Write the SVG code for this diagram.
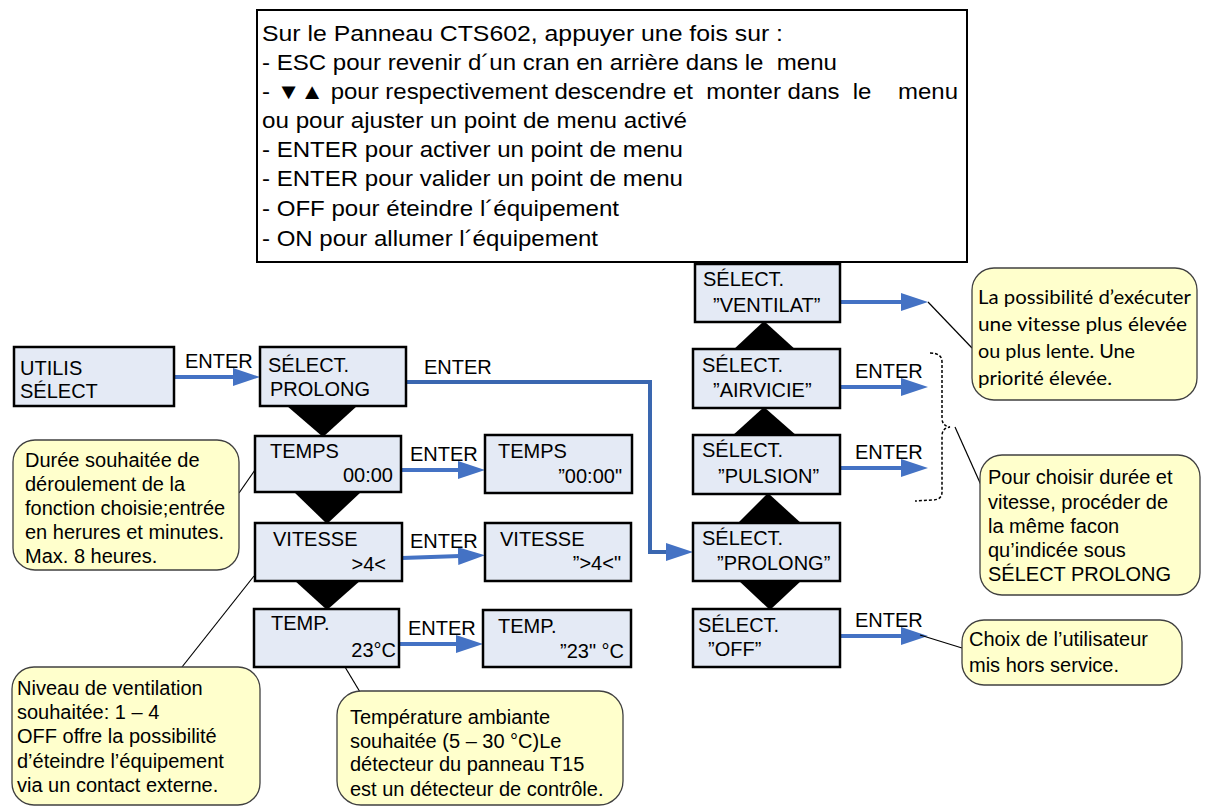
<svg xmlns="http://www.w3.org/2000/svg" width="1210" height="807" viewBox="0 0 1210 807">
<defs>
<style>
.t{font-family:"Liberation Sans",Arial,sans-serif;font-size:20px;fill:#000}
.top{font-family:"Liberation Sans",Arial,sans-serif;font-size:22px;fill:#000;white-space:pre}
.cal{font-family:Lato,"Liberation Sans",sans-serif;font-size:20px;fill:#000}
.end{text-anchor:end}
.node{fill:#E4EAF5;stroke:#000;stroke-width:2.5}
.co{fill:#FFFFCC;stroke:#404040;stroke-width:1.3}
.tri{fill:#000}
.ar{fill:none;stroke:#4472C4;stroke-width:4}
.ar2{fill:none;stroke:#3A67B0;stroke-width:4}
.lead{stroke:#000;stroke-width:1.2;fill:none}
</style>
<marker id="ah" markerUnits="userSpaceOnUse" markerWidth="28" markerHeight="20" refX="2" refY="9" orient="auto">
<path d="M0,0 L27,9 L0,18 z" fill="#4472C4"/>
</marker>
</defs>
<rect width="1210" height="807" fill="#fff"/>

<g id="info">
<rect x="257" y="10" width="710" height="252" fill="#fff" stroke="#000" stroke-width="2"/>
<text class="top" x="262" y="41" textLength="521" lengthAdjust="spacingAndGlyphs">Sur le Panneau CTS602, appuyer une fois sur :</text>
<text class="top" x="262" y="70" textLength="575" lengthAdjust="spacingAndGlyphs">- ESC pour revenir d´un cran en arrière dans le  menu</text>
<text class="top" x="262" y="99" textLength="696" lengthAdjust="spacingAndGlyphs">- ▼▲ pour respectivement descendre et  monter dans  le    menu</text>
<text class="top" x="262" y="128" textLength="425" lengthAdjust="spacingAndGlyphs">ou pour ajuster un point de menu activé</text>
<text class="top" x="262" y="157" textLength="421" lengthAdjust="spacingAndGlyphs">- ENTER pour activer un point de menu</text>
<text class="top" x="262" y="186" textLength="421" lengthAdjust="spacingAndGlyphs">- ENTER pour valider un point de menu</text>
<text class="top" x="262" y="216" textLength="357" lengthAdjust="spacingAndGlyphs">- OFF pour éteindre l´équipement</text>
<text class="top" x="262" y="246" textLength="336" lengthAdjust="spacingAndGlyphs">- ON pour allumer l´équipement</text>
</g>

<g id="triangles">
<polygon class="tri" points="287,406 357,406 323,437"/>
<polygon class="tri" points="294,492 361,492 327,524"/>
<polygon class="tri" points="294,580 361,580 327,610"/>
<polygon class="tri" points="732,351 797,351 764,321"/>
<polygon class="tri" points="732,436 797,436 764,407"/>
<polygon class="tri" points="737,524 802,524 768,493"/>
<polygon class="tri" points="738,580 802,580 770,610"/>
</g>

<g id="connectors">
<line class="ar" x1="175" y1="377" x2="235" y2="377" marker-end="url(#ah)"/>
<text class="t" x="185" y="368">ENTER</text>
<polyline class="ar2" points="406,382 650,382 650,552 668,552" marker-end="url(#ah)"/>
<text class="t" x="424" y="374">ENTER</text>
<line class="ar" x1="401" y1="470" x2="460" y2="470" marker-end="url(#ah)"/>
<text class="t" x="410" y="461">ENTER</text>
<line class="ar" x1="402" y1="558" x2="460" y2="556" marker-end="url(#ah)"/>
<text class="t" x="410" y="548">ENTER</text>
<line class="ar" x1="399" y1="644" x2="458" y2="644" marker-end="url(#ah)"/>
<text class="t" x="408" y="635">ENTER</text>
<line class="ar" x1="840" y1="302" x2="903" y2="302" marker-end="url(#ah)"/>
<line class="ar" x1="840" y1="387" x2="903" y2="387" marker-end="url(#ah)"/>
<text class="t" x="855" y="378">ENTER</text>
<line class="ar" x1="840" y1="468" x2="903" y2="468" marker-end="url(#ah)"/>
<text class="t" x="855" y="459">ENTER</text>
<line class="ar" x1="840" y1="636" x2="903" y2="636" marker-end="url(#ah)"/>
<text class="t" x="855" y="627">ENTER</text>
<path d="M930,353 Q942,353 942,362 L942,418 Q942,426 950,427 Q942,428 942,436 L942,492 Q942,500 932,500 L915,501" fill="none" stroke="#000" stroke-width="1.5" stroke-dasharray="3,2"/>
<line class="lead" x1="239" y1="493" x2="255" y2="470"/>
<line class="lead" x1="182" y1="667" x2="254" y2="576"/>
<line class="lead" x1="345" y1="667" x2="360" y2="692"/>
<line class="lead" x1="928" y1="302" x2="972" y2="348"/>
<line class="lead" x1="955" y1="427" x2="981" y2="485"/>
<line class="lead" x1="920" y1="635" x2="962" y2="648"/>
</g>

<g id="n_utilis"><rect class="node" x="14" y="347" width="160" height="59"/>
<text class="t" x="20" y="375">UTILIS</text><text class="t" x="20" y="398">SÉLECT</text></g>
<g id="n_sel_prolong"><rect class="node" x="260" y="347" width="146" height="59"/>
<text class="t" x="268" y="372">SÉLECT.</text><text class="t" x="270" y="396">PROLONG</text></g>
<g id="n_temps"><rect class="node" x="255" y="436" width="146" height="56"/>
<text class="t" x="270" y="458">TEMPS</text><text class="t end" x="393" y="482">00:00</text></g>
<g id="n_vitesse"><rect class="node" x="255" y="523" width="147" height="58"/>
<text class="t" x="273" y="546">VITESSE</text><text class="t end" x="386" y="571">&gt;4&lt;</text></g>
<g id="n_temp"><rect class="node" x="254" y="609" width="145" height="58"/>
<text class="t" x="271" y="630">TEMP.</text><text class="t end" x="396" y="657">23°C</text></g>
<g id="n_temps2"><rect class="node" x="485" y="435" width="147" height="58"/>
<text class="t" x="498" y="458">TEMPS</text><text class="t end" x="622" y="483">”00:00"</text></g>
<g id="n_vitesse2"><rect class="node" x="485" y="523" width="146" height="58"/>
<text class="t" x="500" y="546">VITESSE</text><text class="t end" x="621" y="570">”&gt;4&lt;"</text></g>
<g id="n_temp2"><rect class="node" x="483" y="610" width="148" height="57"/>
<text class="t" x="498" y="633">TEMP.</text><text class="t end" x="624" y="658">”23" °C</text></g>
<g id="n_ventilat"><rect class="node" x="695" y="264" width="145" height="58"/>
<text class="t" x="703" y="286">SÉLECT.</text><text class="t" x="713" y="312">”VENTILAT”</text></g>
<g id="n_airvicie"><rect class="node" x="693" y="349" width="147" height="59"/>
<text class="t" x="702" y="372">SÉLECT.</text><text class="t" x="713" y="397">”AIRVICIE”</text></g>
<g id="n_pulsion"><rect class="node" x="693" y="435" width="147" height="59"/>
<text class="t" x="702" y="457">SÉLECT.</text><text class="t" x="718" y="483">”PULSION”</text></g>
<g id="n_prolong2"><rect class="node" x="693" y="523" width="147" height="58"/>
<text class="t" x="702" y="545">SÉLECT.</text><text class="t" x="717" y="570">”PROLONG”</text></g>
<g id="n_off"><rect class="node" x="693" y="609" width="147" height="58"/>
<text class="t" x="698" y="632">SÉLECT.</text><text class="t" x="708" y="656">”OFF”</text></g>

<g id="co_duree"><rect class="co" x="13" y="440" width="226" height="130" rx="22"/>
<text class="t" x="25" y="467">Durée souhaitée de</text>
<text class="t" x="25" y="491">déroulement de la</text>
<text class="t" x="25" y="515">fonction choisie;entrée</text>
<text class="t" x="25" y="539">en herures et minutes.</text>
<text class="t" x="25" y="563">Max. 8 heures.</text></g>
<g id="co_niveau"><rect class="co" x="12" y="667" width="248" height="138" rx="22"/>
<text class="t" x="17" y="695">Niveau de ventilation</text>
<text class="t" x="17" y="719">souhaitée: 1 – 4</text>
<text class="t" x="17" y="743">OFF offre la possibilité</text>
<text class="t" x="17" y="768">d’éteindre l’équipement</text>
<text class="t" x="17" y="792">via un contact externe.</text></g>
<g id="co_temp"><rect class="co" x="337" y="691" width="286" height="114" rx="24"/>
<text class="t" x="350" y="724">Température ambiante</text>
<text class="t" x="350" y="748">souhaitée (5 – 30 °C)Le</text>
<text class="t" x="350" y="771">détecteur du panneau T15</text>
<text class="t" x="350" y="796">est un détecteur de contrôle.</text></g>
<g id="co_possib"><rect class="co" x="972" y="268" width="225" height="132" rx="22"/>
<text class="cal" x="978" y="304" textLength="213" lengthAdjust="spacingAndGlyphs">La possibilité d’exécuter</text>
<text class="cal" x="978" y="331" textLength="209" lengthAdjust="spacingAndGlyphs">une vitesse plus élevée</text>
<text class="cal" x="978" y="358" textLength="157" lengthAdjust="spacingAndGlyphs">ou plus lente. Une</text>
<text class="cal" x="978" y="385" textLength="134" lengthAdjust="spacingAndGlyphs">priorité élevée.</text></g>
<g id="co_choisir"><rect class="co" x="980" y="455" width="220" height="140" rx="22"/>
<text class="t" x="988" y="484">Pour choisir durée et</text>
<text class="t" x="988" y="509">vitesse, procéder de</text>
<text class="t" x="988" y="533">la même facon</text>
<text class="t" x="988" y="557">qu’indicée sous</text>
<text class="t" x="988" y="581">SÉLECT PROLONG</text></g>
<g id="co_choix"><rect class="co" x="962" y="620" width="220" height="65" rx="22"/>
<text class="t" x="969" y="646">Choix de l’utilisateur</text>
<text class="t" x="969" y="672">mis hors service.</text></g>
</svg>
